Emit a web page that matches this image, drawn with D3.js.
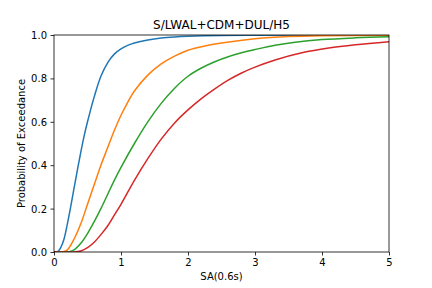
<!DOCTYPE html>
<html>
<head>
<meta charset="utf-8">
<script src="https://cdn.jsdelivr.net/npm/d3@7"></script>
<style>
body { margin: 0; background: white; }
text { font-family: 'DejaVu Sans', sans-serif; fill: black; }
</style>
</head>
<body>

<svg id='chart'></svg>

<script>
// curves, [SA, probability]
var blue = [[0,0],[0.05,0],[0.1,0.02],[0.15,0.06],[0.2,0.13],[0.25,0.21],[0.3,0.295],[0.35,0.38],[0.4,0.46],
	[0.45,0.535],[0.5,0.6],[0.6,0.715],[0.7,0.81],[0.8,0.872],[0.9,0.912],[1.0,0.936],[1.1,0.952],[1.2,0.963],
	[1.4,0.977],[1.6,0.986],[1.8,0.991],[2.0,0.994],[2.5,0.998],[3,0.999],[5,1.0]];
var orange = [[0,0],[0.1,0],[0.15,0.002],[0.2,0.01],[0.3,0.06],[0.4,0.13],[0.5,0.22],[0.6,0.31],[0.7,0.4],
	[0.8,0.48],[0.9,0.56],[1.0,0.63],[1.1,0.69],[1.2,0.742],[1.4,0.815],[1.6,0.867],[1.8,0.903],[2.0,0.93],
	[2.25,0.949],[2.5,0.963],[2.75,0.974],[3.0,0.983],[3.5,0.993],[4,0.997],[5,0.999]];
var green = [[0,0],[0.2,0],[0.3,0.01],[0.4,0.04],[0.5,0.085],[0.6,0.14],[0.7,0.2],[0.8,0.265],[0.9,0.33],
	[1.0,0.39],[1.2,0.5],[1.4,0.6],[1.6,0.685],[1.8,0.755],[2.0,0.81],[2.2,0.848],[2.4,0.877],[2.6,0.9],
	[2.8,0.918],[3.0,0.933],[3.3,0.953],[3.6,0.967],[4.0,0.979],[4.5,0.987],[5.0,0.992]];
var red = [[0,0],[0.3,0],[0.4,0.005],[0.5,0.02],[0.6,0.045],[0.7,0.08],[0.8,0.12],[0.9,0.17],[1.0,0.22],
	[1.2,0.33],[1.4,0.43],[1.6,0.52],[1.8,0.595],[2.0,0.655],[2.2,0.707],[2.4,0.752],[2.6,0.792],[2.8,0.825],
	[3.0,0.852],[3.3,0.885],[3.7,0.918],[4.1,0.94],[4.5,0.955],[5.0,0.969]];

var series = [blue, orange, green, red];
var colors = ['#1f77b4', '#ff7f0e', '#2ca02c', '#d62728'];
var xTicks = [0, 1, 2, 3, 4, 5];
var yTicks = [0, 0.2, 0.4, 0.6, 0.8, 1.0];

var title = 'S/LWAL+CDM+DUL/H5';
var xLabel = 'SA(0.6s)';
var yLabel = 'Probability of Exceedance';

var dims = {
	width: 432,
	height: 288,
	left: 54,
	right: 389,
	top: 35,
	bottom: 252
}

var svg = d3.select('#chart')
	.attr('width', dims.width)
	.attr('height', dims.height);

var x = d3.scaleLinear().domain([0, 5]).range([dims.left, dims.right]);
var y = d3.scaleLinear().domain([0, 1]).range([dims.bottom, dims.top]);

svg.append('defs').append('clipPath').attr('id', 'clip')
	.append('rect')
		.attr('x', dims.left)
		.attr('y', dims.top)
		.attr('width', dims.right - dims.left)
		.attr('height', dims.bottom - dims.top);

var line = d3.line()
	.curve(d3.curveCatmullRom.alpha(0.5))
	.x(d => x(d[0]))
	.y(d => y(d[1]));

svg.append('g')
	.attr('clip-path', 'url(#clip)')
	.selectAll('path')
	.data(series)
	.enter()
	.append('path')
		.attr('d', line)
		.attr('fill', 'none')
		.attr('stroke', (d, i) => colors[i])
		.attr('stroke-width', 1.5)
		.attr('stroke-linejoin', 'round')
		.attr('stroke-linecap', 'square');

// axes, matplotlib look
var xAxis = svg.append('g')
	.attr('transform', 'translate(0 ' + dims.bottom + ')')
	.call(d3.axisBottom(x).tickValues(xTicks).tickFormat(d3.format('d')).tickSizeInner(3.5).tickSizeOuter(0).tickPadding(3.5));
var yAxis = svg.append('g')
	.attr('transform', 'translate(' + dims.left + ' 0)')
	.call(d3.axisLeft(y).tickValues(yTicks).tickFormat(d3.format('.1f')).tickSizeInner(3.5).tickSizeOuter(0).tickPadding(3.5));

[xAxis, yAxis].forEach(function(a) {
	a.selectAll('.domain').remove();
	a.selectAll('line').attr('stroke', 'black').attr('stroke-width', 0.8);
	a.selectAll('text').attr('font-size', 10).attr('font-family', 'DejaVu Sans').attr('fill', 'black');
});
xAxis.selectAll('text').attr('dy', '0.71em');
yAxis.selectAll('text').attr('dy', '0.34em');

svg.append('rect')
	.attr('x', dims.left)
	.attr('y', dims.top)
	.attr('width', dims.right - dims.left)
	.attr('height', dims.bottom - dims.top)
	.attr('fill', 'none')
	.attr('stroke', 'black')
	.attr('stroke-width', 0.8);

svg.append('text')
	.attr('x', (dims.left + dims.right) / 2)
	.attr('y', 29)
	.attr('text-anchor', 'middle')
	.attr('font-size', 12)
	.text(title);

svg.append('text')
	.attr('x', (dims.left + dims.right) / 2)
	.attr('y', 280)
	.attr('text-anchor', 'middle')
	.attr('font-size', 10)
	.text(xLabel);

svg.append('text')
	.attr('transform', 'translate(24.5 ' + (dims.top + dims.bottom) / 2 + ') rotate(-90)')
	.attr('text-anchor', 'middle')
	.attr('font-size', 10)
	.text(yLabel);
</script>

</body>
</html>
